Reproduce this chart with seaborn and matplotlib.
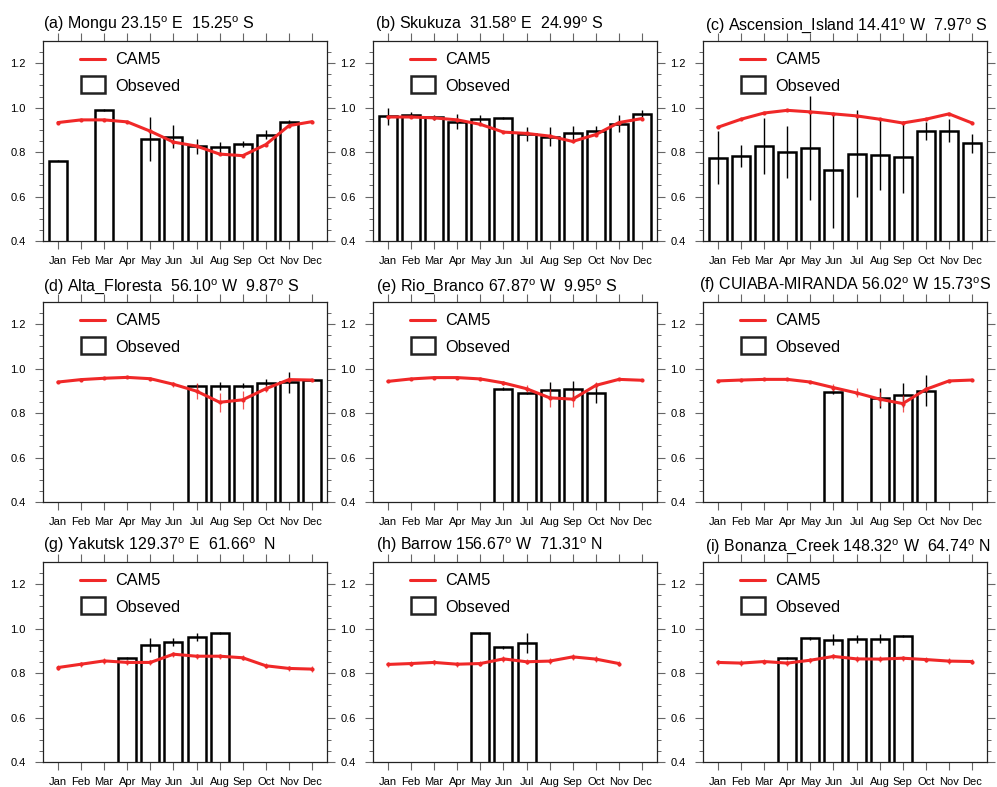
import numpy as np
import pandas as pd
import matplotlib
matplotlib.use("Agg")
import matplotlib.pyplot as plt
from matplotlib.patches import Rectangle
import seaborn as sns

nan = float("nan")

months = ["Jan", "Feb", "Mar", "Apr", "May", "Jun",
          "Jul", "Aug", "Sep", "Oct", "Nov", "Dec"]
yticks = [0.4, 0.6, 0.8, 1.0, 1.2]
ytick_labels = ["0.4", "0.6", "0.8", "1.0", "1.2"]

titles = [
    r"(a) Mongu 23.15$^{\mathrm{o}}$ E  15.25$^{\mathrm{o}}$ S",
    r"(b) Skukuza  31.58$^{\mathrm{o}}$ E  24.99$^{\mathrm{o}}$ S",
    r"(c) Ascension_Island 14.41$^{\mathrm{o}}$ W  7.97$^{\mathrm{o}}$ S",
    r"(d) Alta_Floresta  56.10$^{\mathrm{o}}$ W  9.87$^{\mathrm{o}}$ S",
    r"(e) Rio_Branco 67.87$^{\mathrm{o}}$ W  9.95$^{\mathrm{o}}$ S",
    r"(f) CUIABA-MIRANDA 56.02$^{\mathrm{o}}$ W 15.73$^{\mathrm{o}}$S",
    r"(g) Yakutsk 129.37$^{\mathrm{o}}$ E  61.66$^{\mathrm{o}}$  N",
    r"(h) Barrow 156.67$^{\mathrm{o}}$ W  71.31$^{\mathrm{o}}$ N",
    r"(i) Bonanza_Creek 148.32$^{\mathrm{o}}$ W  64.74$^{\mathrm{o}}$ N",
]

# Observed monthly values and their spread (nan = no observation)
obs_mongu = [0.761, nan, 0.990, nan, 0.860, 0.870, 0.827, 0.821, 0.836, 0.879, 0.937, nan]
obs_err_mongu = [0.003, nan, 0.004, nan, 0.100, 0.050, 0.034, 0.024, 0.012, 0.020, 0.007, nan]
obs_skukuza = [0.961, 0.966, 0.957, 0.937, 0.949, 0.955, 0.882, 0.870, 0.884, 0.896, 0.928, 0.973]
obs_err_skukuza = [0.038, 0.013, 0.012, 0.035, 0.018, 0.005, 0.030, 0.042, 0.034, 0.020, 0.037, 0.017]
obs_ascension = [0.775, 0.782, 0.827, 0.801, 0.819, 0.718, 0.793, 0.788, 0.778, 0.894, 0.897, 0.839]
obs_err_ascension = [0.120, 0.050, 0.125, 0.116, 0.233, 0.260, 0.196, 0.160, 0.160, 0.040, 0.050, 0.043]
obs_alta = [nan, nan, nan, nan, nan, nan, 0.922, 0.924, 0.924, 0.937, 0.939, 0.949]
obs_err_alta = [nan, nan, nan, nan, nan, nan, 0.008, 0.018, 0.010, 0.015, 0.048, 0.004]
obs_rio = [nan, nan, nan, nan, nan, 0.909, 0.890, 0.906, 0.907, 0.891, nan, nan]
obs_err_rio = [nan, nan, nan, nan, nan, 0.007, 0.006, 0.032, 0.037, 0.045, nan, nan]
obs_cuiaba = [nan, nan, nan, nan, nan, 0.896, nan, 0.869, 0.882, 0.901, nan, nan]
obs_err_cuiaba = [nan, nan, nan, nan, nan, 0.010, nan, 0.045, 0.055, 0.070, nan, nan]
obs_yakutsk = [nan, nan, nan, 0.869, 0.927, 0.942, 0.963, 0.981, nan, nan, nan, nan]
obs_err_yakutsk = [nan, nan, nan, 0.005, 0.030, 0.018, 0.017, 0.005, nan, nan, nan, nan]
obs_barrow = [nan, nan, nan, nan, 0.982, 0.916, 0.936, nan, nan, nan, nan, nan]
obs_err_barrow = [nan, nan, nan, nan, 0.005, 0.006, 0.045, nan, nan, nan, nan, nan]
obs_bonanza = [nan, nan, nan, 0.867, 0.957, 0.951, 0.954, 0.954, 0.966, nan, nan, nan]
obs_err_bonanza = [nan, nan, nan, 0.005, 0.006, 0.024, 0.018, 0.020, 0.005, nan, nan, nan]

# CAM5 simulated monthly values and their spread
cam_mongu = [0.933, 0.945, 0.945, 0.936, 0.894, 0.845, 0.827, 0.791, 0.784, 0.834, 0.919, 0.937]
cam_err_mongu = [0.004] * 12
cam_skukuza = [0.958, 0.958, 0.954, 0.945, 0.925, 0.890, 0.884, 0.872, 0.848, 0.879, 0.933, 0.951]
cam_err_skukuza = [0.005] * 12
cam_ascension = [0.912, 0.948, 0.976, 0.988, 0.981, 0.972, 0.963, 0.948, 0.931, 0.948, 0.972, 0.931]
cam_err_ascension = [0.003] * 12
cam_alta = [0.940, 0.951, 0.957, 0.961, 0.955, 0.930, 0.899, 0.849, 0.860, 0.910, 0.951, 0.949]
cam_err_alta = [0.005, 0.005, 0.005, 0.005, 0.005, 0.012, 0.036, 0.042, 0.040, 0.015, 0.010, 0.005]
cam_rio = [0.943, 0.954, 0.960, 0.960, 0.954, 0.936, 0.910, 0.869, 0.863, 0.925, 0.952, 0.948]
cam_err_rio = [0.004, 0.004, 0.004, 0.004, 0.004, 0.010, 0.015, 0.040, 0.035, 0.015, 0.004, 0.004]
cam_cuiaba = [0.945, 0.949, 0.952, 0.952, 0.940, 0.915, 0.891, 0.863, 0.843, 0.907, 0.945, 0.949]
cam_err_cuiaba = [0.004, 0.004, 0.004, 0.004, 0.004, 0.015, 0.020, 0.030, 0.040, 0.012, 0.004, 0.004]
cam_yakutsk = [0.825, 0.840, 0.855, 0.848, 0.848, 0.885, 0.876, 0.876, 0.869, 0.833, 0.821, 0.818]
cam_err_yakutsk = [0.012] * 12
cam_barrow = [0.839, 0.843, 0.848, 0.840, 0.843, 0.864, 0.851, 0.854, 0.873, 0.863, 0.843, nan]
cam_err_barrow = [0.012] * 11 + [nan]
cam_bonanza = [0.848, 0.845, 0.852, 0.845, 0.858, 0.875, 0.864, 0.863, 0.867, 0.861, 0.854, 0.852]
cam_err_bonanza = [0.012] * 12

stations = [
    (obs_mongu, obs_err_mongu, cam_mongu, cam_err_mongu),
    (obs_skukuza, obs_err_skukuza, cam_skukuza, cam_err_skukuza),
    (obs_ascension, obs_err_ascension, cam_ascension, cam_err_ascension),
    (obs_alta, obs_err_alta, cam_alta, cam_err_alta),
    (obs_rio, obs_err_rio, cam_rio, cam_err_rio),
    (obs_cuiaba, obs_err_cuiaba, cam_cuiaba, cam_err_cuiaba),
    (obs_yakutsk, obs_err_yakutsk, cam_yakutsk, cam_err_yakutsk),
    (obs_barrow, obs_err_barrow, cam_barrow, cam_err_barrow),
    (obs_bonanza, obs_err_bonanza, cam_bonanza, cam_err_bonanza),
]

sns.set_style("ticks")
plt.rcParams["font.family"] = ["Liberation Sans", "DejaVu Sans"]
plt.rcParams["mathtext.fontset"] = "custom"
plt.rcParams["mathtext.rm"] = "Liberation Sans"
plt.rcParams["mathtext.it"] = "Liberation Sans:italic"
plt.rcParams["text.color"] = "black"
plt.rcParams["xtick.labelcolor"] = "black"
plt.rcParams["ytick.labelcolor"] = "black"

RED = "#f02828"
TICK_GREY = "#666666"

fig = plt.figure(figsize=(9.97, 7.87), dpi=100)
lefts = [0.0431, 0.3741, 0.7051]
bottoms = [0.6938, 0.3621, 0.0318]
width, height = 0.2849, 0.2541
title_dx = [0.0, 0.007, 0.007, 0.0, 0.01, -0.014, 0.0, 0.01, 0.007]

pos = np.arange(12)
for k, (obs, obs_err, cam, cam_err) in enumerate(stations):
    r, c = divmod(k, 3)
    ax = fig.add_axes([lefts[c], bottoms[r], width, height])

    df = pd.DataFrame({"pos": pos, "obs": obs, "err": obs_err}).dropna()
    sns.barplot(data=df, x="pos", y="obs", native_scale=True, orient="x",
                width=0.78, color="white", saturation=1, edgecolor="black",
                linewidth=1.8, errorbar=None, ax=ax, zorder=2)
    ax.errorbar(df["pos"], df["obs"], yerr=df["err"], fmt="none",
                ecolor="black", elinewidth=1.0, capsize=0, zorder=3)

    cf = pd.DataFrame({"pos": pos, "cam": cam, "err": cam_err}).dropna()
    ax.errorbar(cf["pos"], cf["cam"], yerr=cf["err"], fmt="none",
                ecolor=RED, elinewidth=0.9, alpha=0.8, capsize=0, zorder=4)
    sns.lineplot(data=cf, x="pos", y="cam", color=RED, linewidth=2.2,
                 marker="o", markersize=3.0, markeredgewidth=0, ax=ax, zorder=5)

    ax.set_xlim(-0.65, 11.65)
    ax.set_ylim(0.4, 1.3)
    ax.set_xticks(pos)
    ax.set_xticklabels(months)
    ax.set_yticks(yticks)
    ax.set_yticklabels(ytick_labels)
    ax.set_yticks(np.arange(0.45, 1.3, 0.05), minor=True)
    ax.set_xlabel("")
    ax.set_ylabel("")
    ax.tick_params(axis="x", which="major", direction="out", length=6,
                   width=0.8, color=TICK_GREY, top=True, bottom=True,
                   labeltop=False, labelsize=8, pad=4.5)
    ax.tick_params(axis="y", which="major", direction="out", length=6,
                   width=0.8, color=TICK_GREY, left=True, right=True,
                   labelright=False, labelsize=8, pad=6.5)
    ax.tick_params(axis="y", which="minor", direction="out", length=3,
                   width=0.7, color=TICK_GREY, left=True, right=True)
    ax.tick_params(axis="x", which="minor", bottom=False, top=False)
    for sp in ax.spines.values():
        sp.set_visible(True)
        sp.set_linewidth(0.9)
        sp.set_color("#222222")

    # legend drawn in axes coordinates
    ax.plot([0.13, 0.22], [0.91, 0.91], color=RED, linewidth=2.2,
            transform=ax.transAxes, zorder=6)
    ax.add_patch(Rectangle((0.134, 0.742), 0.084, 0.083, transform=ax.transAxes,
                           facecolor="white", edgecolor="#222222",
                           linewidth=1.8, zorder=6))
    ax.text(0.254, 0.885, "CAM5", transform=ax.transAxes, fontsize=11.7,
            va="baseline", ha="left", zorder=6)
    ax.text(0.254, 0.7515, "Obseved", transform=ax.transAxes, fontsize=11.7,
            va="baseline", ha="left", zorder=6)

    ax.text(title_dx[k], 1.058, titles[k], transform=ax.transAxes,
            fontsize=11.5, va="baseline", ha="left", clip_on=False)

fig.savefig("out.png", dpi=100)
